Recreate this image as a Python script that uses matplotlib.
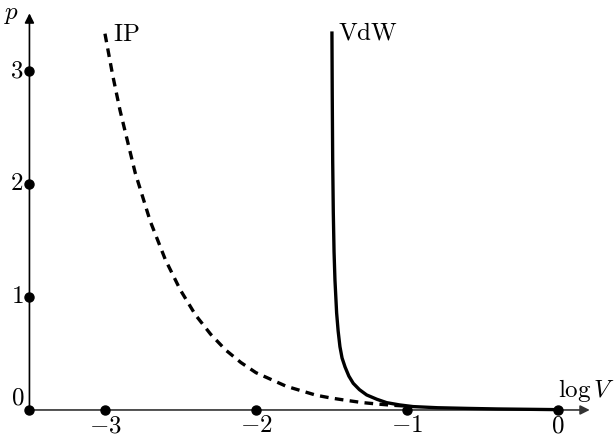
import matplotlib
matplotlib.use("Agg")
import matplotlib.pyplot as plt

plt.rcParams['mathtext.fontset'] = 'cm'
plt.rcParams['font.family'] = 'serif'
plt.rcParams['font.serif'] = ['DejaVu Serif']

# ideal gas (dashed)
ip_logv = [-3.0, -2.95, -2.9, -2.8, -2.7, -2.6, -2.5, -2.4, -2.3, -2.2, -2.1, -2.0,
           -1.9, -1.8, -1.7, -1.6, -1.5, -1.4, -1.3, -1.2, -1.1, -1.0]
ip_p = [3.33, 2.97, 2.65, 2.10, 1.67, 1.33, 1.06, 0.84, 0.67, 0.53, 0.42, 0.33,
        0.27, 0.21, 0.17, 0.13, 0.105, 0.085, 0.066, 0.053, 0.042, 0.034]

# van der Waals (solid)
vdw_logv = [-1.497, -1.495, -1.492, -1.488, -1.483, -1.477, -1.466, -1.456, -1.444,
            -1.43, -1.41, -1.385, -1.356, -1.315, -1.267, -1.2, -1.135, -1.05, -0.96,
            -0.8, -0.6, -0.4, -0.2, 0.0]
vdw_p = [3.35, 2.8, 2.2, 1.75, 1.4, 1.15, 0.86, 0.7, 0.56, 0.46, 0.38, 0.3, 0.236,
         0.18, 0.133, 0.095, 0.065, 0.045, 0.03, 0.02, 0.014, 0.009, 0.006, 0.003]

xticks = [-3, -2, -1, 0]
yticks = [1, 2, 3]

fig = plt.figure(figsize=(6.16, 4.38), dpi=100)
ax = fig.add_axes([0, 0, 1, 1])
ax.set_xlim(-3.695, 0.384)
ax.set_ylim(-0.248, 3.628)
ax.axis('off')

# axes with arrows
ax.annotate('', xy=(0.21, 0), xytext=(-3.5, 0),
            arrowprops=dict(arrowstyle='-|>', color='#333333', lw=1.2,
                            mutation_scale=14, shrinkA=0, shrinkB=0))
ax.annotate('', xy=(-3.5, 3.51), xytext=(-3.5, 0),
            arrowprops=dict(arrowstyle='-|>', color='black', lw=1.2,
                            mutation_scale=14, shrinkA=0, shrinkB=0))

# curves
ax.plot(ip_logv, ip_p, color='black', lw=2.4, ls=(0, (2.6, 1.9)), zorder=3)
ax.plot(vdw_logv, vdw_p, color='black', lw=2.4, zorder=3, solid_capstyle='butt')

# tick dots
ax.plot(xticks, [0] * len(xticks), 'o', color='black', ms=6.5, zorder=4)
ax.plot([-3.5] * (len(yticks) + 1), [0] + yticks, 'o', color='black', ms=6.5, zorder=4)

fs = 18
for t in xticks:
    ax.text(t, -0.04, r'$%d$' % t, ha='center', va='top', fontsize=fs)
for t in yticks:
    ax.text(-3.54, t, r'$%d$' % t, ha='right', va='center', fontsize=fs)
ax.text(-3.53, 0.045, r'$0$', ha='right', va='baseline', fontsize=fs)

ax.text(-3.57, 3.5, r'$p$', ha='right', va='center', fontsize=fs)
ax.text(0.0, 0.115, r'$\log V$', ha='left', va='baseline', fontsize=fs)
ax.text(-2.95, 3.32, r'$\mathrm{IP}$', ha='left', va='center', fontsize=fs)
ax.text(-1.46, 3.34, r'$\mathrm{VdW}$', ha='left', va='center', fontsize=fs)

fig.savefig('out.png', dpi=100)
